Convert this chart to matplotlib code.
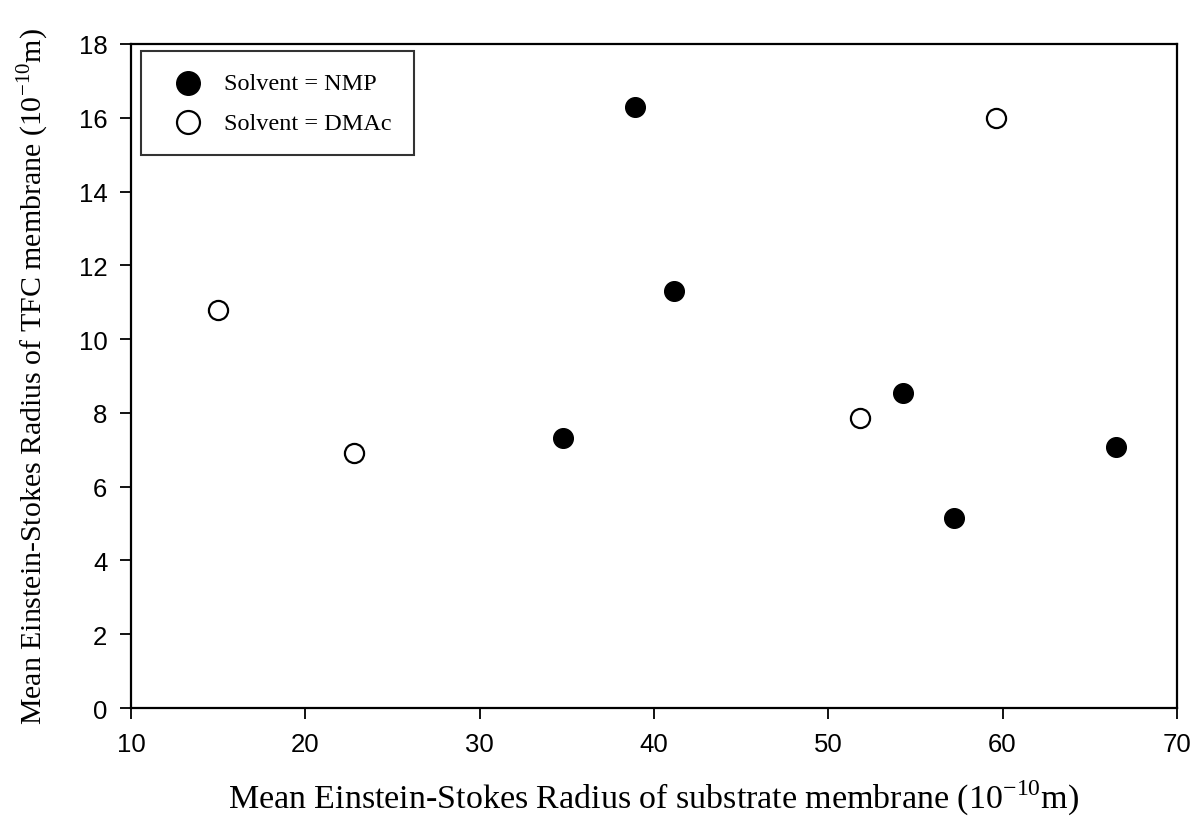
import matplotlib.pyplot as plt

# data
nmp_x = [38.9, 41.15, 34.8, 54.3, 57.2, 66.5]
nmp_y = [16.3, 11.3, 7.33, 8.55, 5.15, 7.08]

dmac_x = [15.0, 22.8, 51.8, 59.6]
dmac_y = [10.8, 6.9, 7.87, 16.0]

xticks = [10, 20, 30, 40, 50, 60, 70]
yticks = [0, 2, 4, 6, 8, 10, 12, 14, 16, 18]

plt.rcParams['mathtext.fontset'] = 'custom'
plt.rcParams['mathtext.rm'] = 'Liberation Serif'

fig = plt.figure(figsize=(11.96, 8.28), dpi=100)
ax = fig.add_axes([0.1095, 0.1437, 0.8745, 0.802])

ax.scatter(nmp_x, nmp_y, s=200, c='black', edgecolors='black', linewidths=1.0,
           label='Solvent = NMP', zorder=3)
ax.scatter(dmac_x, dmac_y, s=190, facecolors='white', edgecolors='black', linewidths=1.6,
           label='Solvent = DMAc', zorder=3)

ax.set_xlim(10, 70)
ax.set_ylim(0, 18)
ax.set_xticks(xticks)
ax.set_yticks(yticks)

for sp in ax.spines.values():
    sp.set_linewidth(1.6)

ax.tick_params(direction='out', length=8, width=1.3, labelsize=18.5, pad=9)
for lab in ax.get_xticklabels() + ax.get_yticklabels():
    lab.set_family('Liberation Sans')

ax.set_xlabel(r'Mean Einstein-Stokes Radius of substrate membrane (10$^{\mathregular{-10}}$m)',
              family='Liberation Serif', fontsize=24.5, labelpad=16)
ax.set_ylabel(r'Mean Einstein-Stokes Radius of TFC membrane (10$^{\mathregular{-10}}$m)',
              family='Liberation Serif', fontsize=21.5, labelpad=20)

leg = ax.legend(loc='upper left', bbox_to_anchor=(0.01, 0.99), frameon=True, fancybox=False,
                edgecolor='black', prop={'family': 'Liberation Serif', 'size': 17.5},
                borderpad=0.9, handletextpad=0.5, labelspacing=0.7, borderaxespad=0,
                markerscale=1.2)
leg.get_frame().set_linewidth(1.5)

fig.savefig('out.png', dpi=100)
